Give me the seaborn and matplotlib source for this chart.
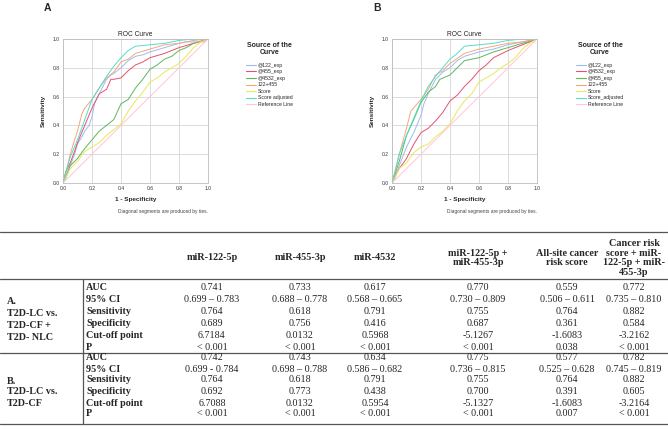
import numpy as np
import pandas as pd
import matplotlib
matplotlib.use("Agg")
import matplotlib.pyplot as plt
from matplotlib.lines import Line2D
import seaborn as sns

# ---- ROC curves, panel A ----
A_LABELS = ['@122_exp', '@455_exp', '@4532_exp', '122+455', 'Score', 'Score adjusted', 'Reference Line']
A_122_X = [0, 0.02, 0.05, 0.08, 0.1, 0.13, 0.15, 0.18, 0.2, 0.22, 0.25, 0.3, 0.33, 0.35, 0.4, 0.45, 0.5, 0.55, 0.6, 0.7, 0.8, 0.9, 1]
A_122_Y = [0, 0.03, 0.12, 0.2, 0.27, 0.32, 0.36, 0.4, 0.46, 0.56, 0.62, 0.72, 0.75, 0.76, 0.8, 0.85, 0.88, 0.89, 0.91, 0.94, 0.97, 0.99, 1]
A_455_X = [0, 0.02, 0.05, 0.08, 0.1, 0.15, 0.2, 0.25, 0.3, 0.33, 0.35, 0.4, 0.45, 0.5, 0.55, 0.6, 0.7, 0.8, 0.9, 1]
A_455_Y = [0, 0.08, 0.14, 0.22, 0.28, 0.4, 0.52, 0.62, 0.65, 0.72, 0.72, 0.73, 0.78, 0.82, 0.84, 0.87, 0.9, 0.94, 0.97, 1]
A_4532_X = [0, 0.02, 0.05, 0.1, 0.15, 0.2, 0.25, 0.3, 0.35, 0.4, 0.45, 0.5, 0.55, 0.6, 0.65, 0.7, 0.75, 0.8, 0.85, 0.9, 0.95, 1]
A_4532_Y = [0, 0.05, 0.12, 0.17, 0.24, 0.3, 0.36, 0.4, 0.44, 0.55, 0.58, 0.66, 0.72, 0.79, 0.82, 0.86, 0.88, 0.92, 0.94, 0.97, 0.98, 1]
A_COMB_X = [0, 0.02, 0.05, 0.08, 0.1, 0.13, 0.15, 0.2, 0.25, 0.3, 0.35, 0.4, 0.45, 0.5, 0.6, 0.7, 0.8, 0.85, 0.97, 1]
A_COMB_Y = [0, 0.07, 0.2, 0.3, 0.36, 0.48, 0.52, 0.58, 0.66, 0.73, 0.77, 0.84, 0.86, 0.9, 0.93, 0.96, 0.97, 0.98, 0.98, 1]
A_SCORE_X = [0, 0.02, 0.05, 0.1, 0.15, 0.2, 0.25, 0.3, 0.35, 0.4, 0.45, 0.5, 0.55, 0.6, 0.65, 0.7, 0.75, 0.8, 0.85, 0.9, 0.95, 1]
A_SCORE_Y = [0, 0.04, 0.1, 0.15, 0.22, 0.25, 0.28, 0.33, 0.37, 0.41, 0.5, 0.57, 0.63, 0.7, 0.73, 0.77, 0.8, 0.83, 0.88, 0.94, 0.98, 1]
A_ADJ_X = [0, 0.02, 0.05, 0.1, 0.15, 0.2, 0.25, 0.3, 0.35, 0.4, 0.45, 0.5, 0.6, 0.7, 0.8, 0.9, 1]
A_ADJ_Y = [0, 0.08, 0.18, 0.3, 0.44, 0.58, 0.66, 0.74, 0.81, 0.87, 0.92, 0.95, 0.96, 0.97, 0.99, 1, 1]
REF_X = [0, 1]
REF_Y = [0, 1]

# ---- ROC curves, panel B ----
B_LABELS = ['@122_exp', '@4532_exp', '@455_exp', '122+455', 'Score', 'Score_adjusted', 'Reference Line']
B_122_X = [0, 0.02, 0.05, 0.1, 0.15, 0.2, 0.22, 0.25, 0.3, 0.35, 0.4, 0.45, 0.5, 0.6, 0.7, 0.8, 0.9, 1]
B_122_Y = [0, 0.03, 0.12, 0.25, 0.35, 0.47, 0.55, 0.62, 0.72, 0.77, 0.8, 0.85, 0.88, 0.91, 0.93, 0.96, 0.98, 1]
B_4532_X = [0, 0.02, 0.05, 0.1, 0.15, 0.2, 0.25, 0.3, 0.35, 0.4, 0.45, 0.5, 0.55, 0.6, 0.65, 0.7, 0.8, 0.9, 1]
B_4532_Y = [0, 0.05, 0.1, 0.17, 0.27, 0.35, 0.38, 0.43, 0.49, 0.57, 0.61, 0.67, 0.72, 0.78, 0.82, 0.87, 0.92, 0.96, 1]
B_455_X = [0, 0.02, 0.05, 0.1, 0.15, 0.2, 0.25, 0.3, 0.33, 0.4, 0.45, 0.5, 0.6, 0.7, 0.8, 0.9, 1]
B_455_Y = [0, 0.06, 0.15, 0.33, 0.44, 0.56, 0.63, 0.67, 0.72, 0.75, 0.8, 0.85, 0.87, 0.91, 0.94, 0.97, 1]
B_COMB_X = [0, 0.02, 0.05, 0.1, 0.13, 0.2, 0.25, 0.3, 0.35, 0.4, 0.5, 0.6, 0.7, 0.8, 0.9, 1]
B_COMB_Y = [0, 0.07, 0.2, 0.38, 0.5, 0.58, 0.65, 0.75, 0.78, 0.83, 0.9, 0.93, 0.95, 0.97, 0.98, 1]
B_SCORE_X = [0, 0.02, 0.05, 0.1, 0.15, 0.2, 0.25, 0.3, 0.35, 0.4, 0.45, 0.5, 0.55, 0.6, 0.65, 0.7, 0.75, 0.8, 0.85, 0.9, 0.95, 1]
B_SCORE_Y = [0, 0.04, 0.1, 0.14, 0.21, 0.25, 0.27, 0.32, 0.36, 0.41, 0.5, 0.57, 0.62, 0.7, 0.73, 0.76, 0.8, 0.83, 0.87, 0.93, 0.97, 1]
B_ADJ_X = [0, 0.02, 0.05, 0.1, 0.15, 0.2, 0.25, 0.3, 0.35, 0.4, 0.45, 0.5, 0.6, 0.7, 0.8, 0.9, 1]
B_ADJ_Y = [0, 0.08, 0.2, 0.33, 0.45, 0.57, 0.67, 0.74, 0.8, 0.86, 0.9, 0.95, 0.96, 0.97, 0.99, 1, 1]

CURVE_COLORS = ['#9dbbec', '#e8506e', '#5cb85c', '#f7a67c', '#e8e85a', '#55dcc8', '#ffc6d8']

# ---- table ----
COL_HEADERS = ['miR-122-5p', 'miR-455-3p', 'miR-4532', 'miR-122-5p +\nmiR-455-3p',
               'All-site cancer\nrisk score', 'Cancer risk\nscore + miR-\n122-5p + miR-\n455-3p']
ROW_METRICS = ['AUC', '95% CI', 'Sensitivity', 'Specificity', 'Cut-off point', 'P']
GROUP_A = ['A.', 'T2D-LC vs.', 'T2D-CF +', 'T2D- NLC']
GROUP_B = ['B.', 'T2D-LC vs.', 'T2D-CF']
TABLE_A = [
    ['0.741', '0.733', '0.617', '0.770', '0.559', '0.772'],
    ['0.699 – 0.783', '0.688 – 0.778', '0.568 – 0.665', '0.730 – 0.809', '0.506 – 0.611', '0.735 – 0.810'],
    ['0.764', '0.618', '0.791', '0.755', '0.764', '0.882'],
    ['0.689', '0.756', '0.416', '0.687', '0.361', '0.584'],
    ['6.7184', '0.0132', '0.5968', '-5.1267', '-1.6083', '-3.2162'],
    ['< 0.001', '< 0.001', '< 0.001', '< 0.001', '0.038', '< 0.001'],
]
TABLE_B = [
    ['0.742', '0.743', '0.634', '0.775', '0.577', '0.782'],
    ['0.699 - 0.784', '0.698 – 0.788', '0.586 – 0.682', '0.736 – 0.815', '0.525 – 0.628', '0.745 – 0.819'],
    ['0.764', '0.618', '0.791', '0.755', '0.764', '0.882'],
    ['0.692', '0.773', '0.438', '0.700', '0.391', '0.605'],
    ['6.7088', '0.0132', '0.5954', '-5.1327', '-1.6083', '-3.2164'],
    ['< 0.001', '< 0.001', '< 0.001', '< 0.001', '0.007', '< 0.001'],
]

sns.set_theme(style='white')
plt.rcParams['font.family'] = ['Liberation Sans', 'DejaVu Sans']

W, H = 668, 429
fig = plt.figure(figsize=(W / 100, H / 100), dpi=100)

# full-figure pixel axes for table & loose text
bg = fig.add_axes([0, 0, 1, 1], zorder=0)
bg.set_xlim(0, W)
bg.set_ylim(H, 0)
bg.axis('off')


def roc_panel(left_px, letter, labels, xs, ys, legend_x):
    ax = fig.add_axes([left_px / W, 1 - 183 / H, 145 / W, 144 / H], zorder=2)
    frames = []
    for lab, x, y in zip(labels, xs, ys):
        frames.append(pd.DataFrame({'fpr': x, 'tpr': y, 'src': lab}))
    df = pd.concat(frames, ignore_index=True)
    sns.lineplot(data=df, x='fpr', y='tpr', hue='src', hue_order=labels,
                 palette=CURVE_COLORS, sort=False, estimator=None,
                 linewidth=0.7, legend=False, ax=ax)
    ax.set_xlim(0, 1)
    ax.set_ylim(0, 1)
    ticks = [0, 0.2, 0.4, 0.6, 0.8, 1.0]
    ax.set_xticks(ticks)
    ax.set_yticks(ticks)
    ax.set_xticklabels([f'{t:.1f}' for t in ticks])
    ax.set_yticklabels([f'{t:.1f}' for t in ticks])
    ax.tick_params(labelsize=3.6, length=0, pad=2.5, colors='#333333')
    ax.grid(True, color='#d6d6d6', linewidth=0.6)
    for s in ax.spines.values():
        s.set_color('#bdbdbd')
        s.set_linewidth(0.6)
    ax.set_title('ROC Curve', fontsize=4.8, pad=2.5, color='#222222')
    ax.set_xlabel('1 - Specificity', fontsize=4.6, fontweight='bold', labelpad=4)
    ax.set_ylabel('Sensitivity', fontsize=4.6, fontweight='bold', labelpad=5)

    handles = [Line2D([], [], color=c, lw=0.8) for c in CURVE_COLORS]
    leg = ax.legend(handles, labels, title='Source of the\nCurve', loc='upper left',
                    bbox_to_anchor=(legend_x / W, 1 - 42 / H), bbox_transform=fig.transFigure,
                    frameon=False, fontsize=3.7, title_fontsize=5.0, handlelength=2.0,
                    handletextpad=0.3, labelspacing=0.3, borderpad=0, borderaxespad=0,
                    alignment='center')
    leg.get_title().set_fontweight('bold')
    leg.get_title().set_multialignment('center')
    leg.get_title().set_linespacing(0.95)
    leg._legend_box.sep = 5
    bg.text(left_px - 19, 8, letter, fontsize=7.5, fontweight='bold', ha='left', va='center')
    bg.text(left_px + 145, 212, 'Diagonal segments are produced by ties.', fontsize=3.5,
            color='#444444', ha='right', va='center')
    return ax


roc_panel(63, 'A', A_LABELS,
          [A_122_X, A_455_X, A_4532_X, A_COMB_X, A_SCORE_X, A_ADJ_X, REF_X],
          [A_122_Y, A_455_Y, A_4532_Y, A_COMB_Y, A_SCORE_Y, A_ADJ_Y, REF_Y], 246)
roc_panel(392, 'B', B_LABELS,
          [B_122_X, B_4532_X, B_455_X, B_COMB_X, B_SCORE_X, B_ADJ_X, REF_X],
          [B_122_Y, B_4532_Y, B_455_Y, B_COMB_Y, B_SCORE_Y, B_ADJ_Y, REF_Y], 576)

# ---- table drawing ----
serif = ['Liberation Serif', 'DejaVu Serif']
FS = 7.3
line_kw = dict(color='#555555', linewidth=0.9)
for yy in [232, 279, 353, 424]:
    bg.plot([0, W], [yy, yy], **line_kw)
bg.plot([83, 83], [279, 424], **line_kw)

col_x = [212, 300, 375, 478, 567, 634]
for cx, head in zip(col_x, COL_HEADERS):
    bg.text(cx, 258, head, family=serif, fontsize=FS, fontweight='bold',
            ha='center', va='center', linespacing=1.1)

rows_a = [287, 299, 311, 323, 335, 347]
rows_b = [358, 369, 380, 392, 403, 414]
for rows, table in [(rows_a, TABLE_A), (rows_b, TABLE_B)]:
    for ry, metric, vals in zip(rows, ROW_METRICS, table):
        bg.text(86, ry, metric, family=serif, fontsize=FS, fontweight='bold', ha='left', va='center')
        for cx, v in zip(col_x, vals):
            bg.text(cx, ry, v, family=serif, fontsize=FS, ha='center', va='center')

for ry, g in zip([302, 313, 325, 337], GROUP_A):
    bg.text(7, ry, g, family=serif, fontsize=FS, fontweight='bold', ha='left', va='center')
for ry, g in zip([381, 392, 403], GROUP_B):
    bg.text(7, ry, g, family=serif, fontsize=FS, fontweight='bold', ha='left', va='center')

fig.savefig('out.png', dpi=100)
